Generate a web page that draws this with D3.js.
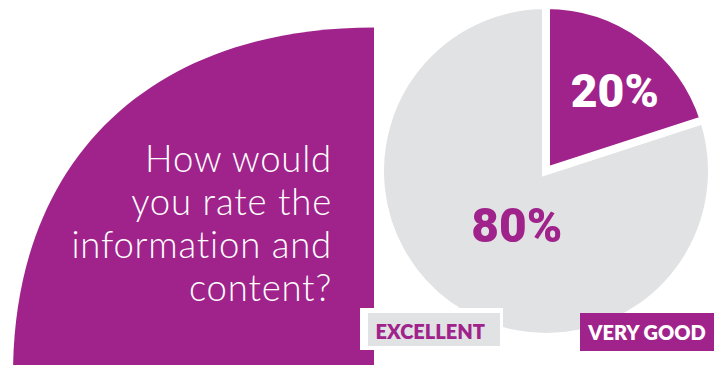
<!DOCTYPE html>
<html>
<head>
<meta charset="utf-8">
<script src="https://cdn.jsdelivr.net/npm/d3@7"></script>
<style>
  body { margin: 0; background: #fff; }
  svg { display: block; }
</style>
</head>
<body>
<svg id="chart" width="723" height="365"></svg>
<script>
// data
const categories = ["VERY GOOD", "EXCELLENT"];
const values = [20, 80];
const valueLabels = ["20%", "80%"];
const legendOrder = ["EXCELLENT", "VERY GOOD"];
const questionLines = ["How would", "you rate the", "information and", "content?"];

const purple = "#a0238b";
const grey = "#e1e2e4";

const svg = d3.select("#chart");

// big quarter shape on the left
const shape = d3.path();
shape.moveTo(374, 27.5);
shape.bezierCurveTo(374 - 0.62 * 361, 27.5, 13, 375 - 0.62 * 347.5, 13, 375);
shape.lineTo(374, 375);
shape.closePath();
svg.append("path").attr("d", shape.toString()).attr("fill", purple);

// question
svg.append("g")
  .selectAll("text")
  .data(questionLines)
  .enter()
  .append("text")
  .attr("x", 332)
  .attr("y", (d, i) => 171.5 + i * 43)
  .attr("text-anchor", "end")
  .attr("fill", "#fff")
  .style("font-family", "Lato, 'Open Sans', sans-serif")
  .style("font-weight", 300)
  .style("font-size", "36.5px")
  .style("letter-spacing", "0.8px")
  .text((d) => d);

// pie
const rows = categories.map((c, i) => ({ cat: c, value: values[i], label: valueLabels[i] }));
const color = d3.scaleOrdinal().domain(categories).range([purple, grey]);
const pie = d3.pie().sort(null).value((d) => d.value);
const arcs = pie(rows);
const arc = d3.arc().innerRadius(0).outerRadius(166);

const g = svg.append("g").attr("transform", "translate(546,171)");

// grey first, purple on top, white stroke makes the gap
g.selectAll("path")
  .data(arcs.slice().reverse())
  .enter()
  .append("path")
  .attr("d", arc)
  .attr("fill", (d) => color(d.data.cat))
  .attr("stroke", "#fff")
  .attr("stroke-width", 8)
  .attr("stroke-linejoin", "miter");

const labelRadius = { "VERY GOOD": 100, "EXCELLENT": 60 };
const labelNudge = { "VERY GOOD": [10, 17], "EXCELLENT": [6, 22] };
const labelSize = { "VERY GOOD": 46, "EXCELLENT": 49 };
const labelWidth = { "VERY GOOD": 88, "EXCELLENT": 91 };

g.selectAll("text")
  .data(arcs)
  .enter()
  .append("text")
  .attr("transform", (d) => {
    const r = labelRadius[d.data.cat];
    const c = d3.arc().innerRadius(r).outerRadius(r).centroid(d);
    const n = labelNudge[d.data.cat];
    return `translate(${c[0] + n[0]},${c[1] + n[1]})`;
  })
  .attr("text-anchor", "middle")
  .attr("textLength", (d) => labelWidth[d.data.cat])
  .attr("lengthAdjust", "spacingAndGlyphs")
  .attr("fill", (d) => (d.data.cat === "VERY GOOD" ? "#fff" : purple))
  .style("font-family", "Roboto, 'DejaVu Sans', sans-serif")
  .style("font-weight", 900)
  .style("font-size", (d) => labelSize[d.data.cat] + "px")
  .text((d) => d.data.label);

// legend
const legendFont = "Lato, 'Open Sans', sans-serif";

svg.append("rect")
  .attr("x", 360).attr("y", 308).attr("width", 143).attr("height", 42)
  .attr("fill", "#fff");
svg.append("rect")
  .attr("x", 368).attr("y", 313).attr("width", 132).attr("height", 33)
  .attr("fill", color(legendOrder[0]));
svg.append("text")
  .attr("x", 375.5).attr("y", 338.5)
  .attr("fill", purple)
  .style("font-family", legendFont)
  .style("font-weight", 800)
  .style("font-size", "20px")
  .text(legendOrder[0]);

svg.append("rect")
  .attr("x", 580).attr("y", 313).attr("width", 134).attr("height", 38)
  .attr("fill", color(legendOrder[1]));
svg.append("text")
  .attr("x", 588.3).attr("y", 339.5)
  .attr("fill", "#fff")
  .style("font-family", legendFont)
  .style("font-weight", 800)
  .style("font-size", "20px")
  .text(legendOrder[1]);
</script>
</body>
</html>
